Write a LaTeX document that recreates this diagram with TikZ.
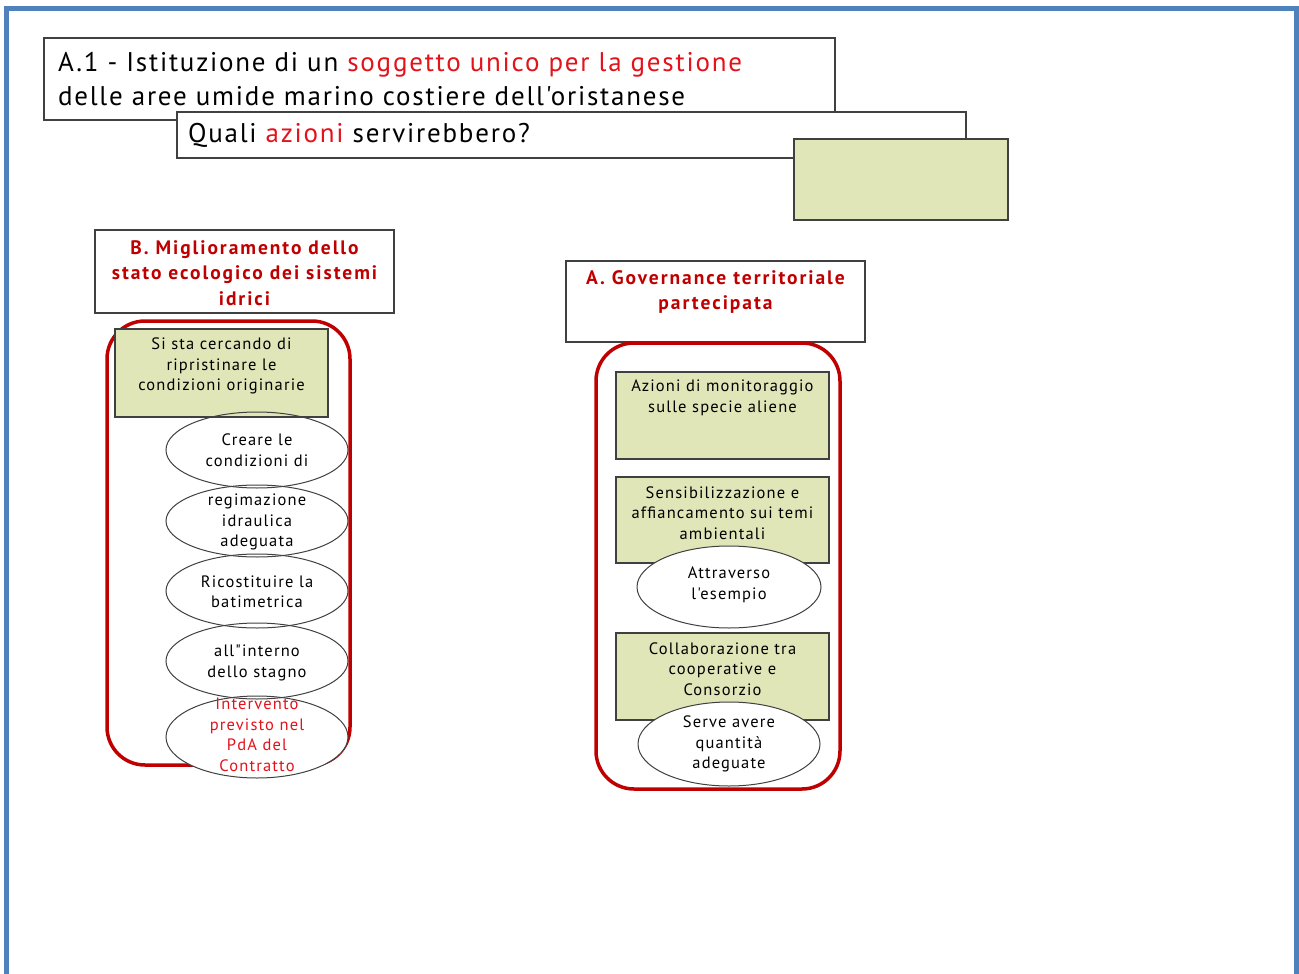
\documentclass[tikz,border=0pt]{standalone}
\usepackage{fontspec}
\setmainfont{PT Sans}
\newfontfamily\hdrfont[LetterSpace=6.6]{PT Sans}
\newfontfamily\smallfont[LetterSpace=7]{PT Sans}
\newfontfamily\headfont[LetterSpace=10]{PT Sans}
\usetikzlibrary{shapes.geometric}
\definecolor{frameblue}{HTML}{4F81BD}
\definecolor{hdrred}{HTML}{E3121B}
\definecolor{darkred}{HTML}{C00000}
\definecolor{boxgreen}{HTML}{E0E6B8}
\definecolor{edgegray}{HTML}{404040}
\begin{document}
\begin{tikzpicture}[x=1pt,y=-1pt,
  hdrbox/.style={draw=edgegray, line width=1.3pt, fill=white, rectangle, inner sep=0pt},
  headbox/.style={draw=edgegray, line width=1.3pt, fill=white, rectangle, inner sep=0pt},
  headtext/.style={text=darkred, font=\headfont\bfseries\fontsize{19.5}{25.5}\selectfont, align=center, inner sep=0pt},
  redframe/.style={draw=darkred, line width=3.5pt, rounded corners=38pt, rectangle, inner sep=0pt},
  greenbox/.style={draw=edgegray, line width=1.2pt, fill=boxgreen, rectangle, inner sep=0pt},
  ellnode/.style={draw=edgegray, line width=1pt, ellipse, inner sep=0pt},
  smalltext/.style={font=\smallfont\fontsize{16.5}{20.5}\selectfont, align=center, inner sep=0pt}
]
\useasboundingbox (0,0) rectangle (1299,974);
\fill[white] (0,0) rectangle (1299,974);
% blue page frame
\draw[frameblue, line width=5pt] (4,8.5) -- (1299,8.5);
\draw[frameblue, line width=5pt] (6.5,6) -- (6.5,974);
\draw[frameblue, line width=5pt] (1296.5,6) -- (1296.5,974);

% header boxes
\node[hdrbox, minimum width=791pt, minimum height=82pt, text width=763pt, align=left,
      font=\hdrfont\fontsize{27}{34}\selectfont] (title) at (439.5,79)
  {A.1 - Istituzione di un \textcolor{hdrred}{soggetto unico per la gestione}\\delle aree umide marino costiere dell'oristanese};
\node[hdrbox, minimum width=789pt, minimum height=46pt, text width=767pt, align=left,
      font=\hdrfont\fontsize{27}{34}\selectfont] (question) at (571.5,135)
  {Quali \textcolor{hdrred}{azioni} servirebbero?};
\node[greenbox, line width=1.3pt, minimum width=214pt, minimum height=81pt] (blank) at (901,179.5) {};

% left column
\node[headbox, minimum width=299pt, minimum height=83pt] (boxB) at (244.5,271.5) {};
\node[headtext] (boxBtext) at (244.5,273) {B. Miglioramento dello\\stato ecologico dei sistemi\\idrici};
\node[redframe, minimum width=243pt, minimum height=444pt] (lframe) at (228.5,543) {};

\fill[white] (257,450) ellipse [x radius=91, y radius=38];
\fill[white] (257,521) ellipse [x radius=91, y radius=36];
\fill[white] (257,591) ellipse [x radius=91, y radius=37];
\fill[white] (257,661) ellipse [x radius=91, y radius=38];
\fill[white] (257,737) ellipse [x radius=91, y radius=41];

\node[greenbox, minimum width=213pt, minimum height=88pt] (lg1) at (221.5,373) {};
\node[smalltext] (lg1text) at (221.5,366) {Si sta cercando di\\ripristinare le\\condizioni originarie};

\node[ellnode, minimum width=182pt, minimum height=76pt] (le1) at (257,450) {};
\node[ellnode, minimum width=182pt, minimum height=72pt] (le2) at (257,521) {};
\node[ellnode, minimum width=182pt, minimum height=74pt] (le3) at (257,591) {};
\node[ellnode, minimum width=182pt, minimum height=76pt] (le4) at (257,661) {};
\node[ellnode, minimum width=182pt, minimum height=82pt] (le5) at (257,737) {};
\node[smalltext] (le1text) at (257,450) {Creare le\\condizioni di};
\node[smalltext] (le2text) at (257,522) {regimazione\\idraulica\\adeguata};
\node[smalltext] (le3text) at (257,592) {Ricostituire la\\batimetrica};
\node[smalltext] (le4text) at (257,663) {all"interno\\dello stagno};
\node[smalltext, text=hdrred] (le5text) at (257,735) {Intervento\\previsto nel\\PdA del\\Contratto};

% right column
\node[headbox, minimum width=299pt, minimum height=81pt] (boxA) at (715.5,301.5) {};
\node[headtext] (boxAtext) at (715.5,292) {A. Governance territoriale\\partecipata};
\node[redframe, minimum width=244pt, minimum height=446pt] (rframe) at (718,566) {};

\node[greenbox, minimum width=213pt, minimum height=87pt] (rg1) at (722.5,415.5) {};
\node[smalltext] (rg1text) at (722.5,398) {Azioni di monitoraggio\\sulle specie aliene};
\node[greenbox, minimum width=213pt, minimum height=86pt] (rg2) at (722.5,520) {};
\node[smalltext] (rg2text) at (722.5,513) {Sensibilizzazione e\\affiancamento sui temi\\ambientali};
\node[greenbox, minimum width=213pt, minimum height=87pt] (rg3) at (722.5,676.5) {};
\node[smalltext] (rg3text) at (722.5,669) {Collaborazione tra\\cooperative e\\Consorzio};

\node[ellnode, fill=white, minimum width=184pt, minimum height=82pt] (re1) at (729,587) {};
\node[smalltext] (re1text) at (729,585) {Attraverso\\l'esempio};
\node[ellnode, fill=white, minimum width=182pt, minimum height=84pt] (re2) at (729,744) {};
\node[smalltext] (re2text) at (729,744) {Serve avere\\quantità\\adeguate};
\end{tikzpicture}
\end{document}
